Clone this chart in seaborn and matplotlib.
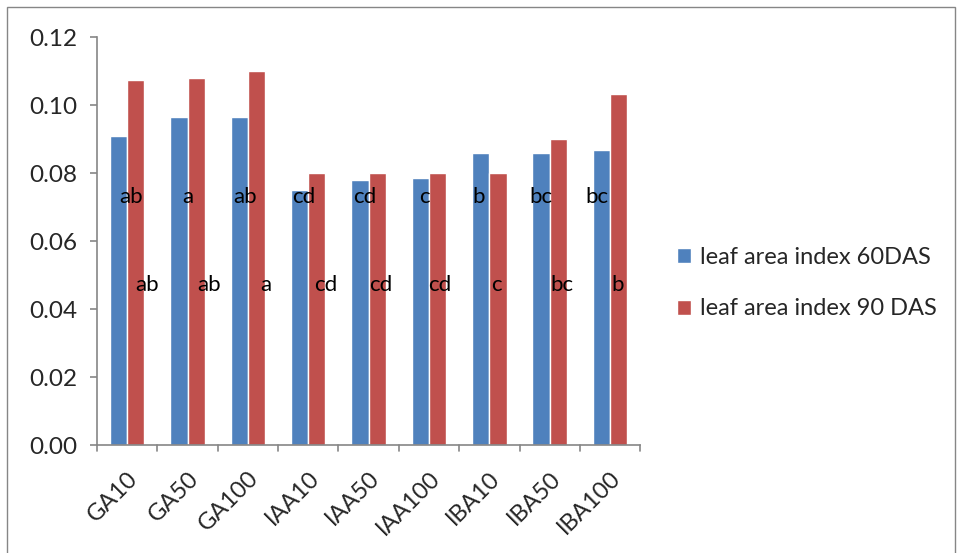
import matplotlib
matplotlib.use("Agg")
import matplotlib.pyplot as plt
import seaborn as sns
import pandas as pd
from matplotlib.patches import Rectangle

# Treatments and leaf area index readings
treatments = ["GA10", "GA50", "GA100", "IAA10", "IAA50", "IAA100", "IBA10", "IBA50", "IBA100"]
lai_60 = [0.0909, 0.0965, 0.0966, 0.0751, 0.0781, 0.0785, 0.0859, 0.0861, 0.0868]
lai_90 = [0.1074, 0.1079, 0.1100, 0.0800, 0.0800, 0.0800, 0.0800, 0.0900, 0.1033]
letters_60 = ["ab", "a", "ab", "cd", "cd", "c", "b", "bc", "bc"]
letters_90 = ["ab", "ab", "a", "cd", "cd", "cd", "c", "bc", "b"]
series_names = ["leaf area index 60DAS", "leaf area index 90 DAS"]
y_ticks = [0.00, 0.02, 0.04, 0.06, 0.08, 0.10, 0.12]

# horizontal nudges of the significance letters (category units)
shift_60 = [0.06, 0.0, -0.04, -0.07, -0.06, -0.08, -0.17, -0.15, -0.22]
shift_90 = [0.33, 0.36, 0.29, 0.29, 0.20, 0.18, 0.12, 0.20, 0.12]

df = pd.DataFrame({
    "treatment": treatments * 2,
    "value": lai_60 + lai_90,
    "series": [series_names[0]] * len(treatments) + [series_names[1]] * len(treatments),
})

sns.set_theme(style="white")
plt.rcParams["font.family"] = ["Lato", "DejaVu Sans"]

fig = plt.figure(figsize=(9.57, 5.53), dpi=100)
ax = fig.add_axes([0.1014, 0.1947, 0.5676, 0.7378])

palette = {series_names[0]: "#4F81BD", series_names[1]: "#C0504D"}
sns.barplot(data=df, x="treatment", y="value", hue="series", order=treatments,
            hue_order=series_names, palette=palette, width=0.57, saturation=1,
            ax=ax, errorbar=None)

ax.set_xlim(-0.5, len(treatments) - 0.5)
ax.set_ylim(0, 0.12)
ax.set_yticks(y_ticks)
ax.set_yticklabels([f"{t:.2f}" for t in y_ticks], fontsize=17.5)
ax.set_xticks(range(len(treatments)))
ax.set_xticklabels(treatments, rotation=45, ha="right", rotation_mode="anchor", fontsize=17)
ax.set_xlabel("")
ax.set_ylabel("")

axis_grey = "#868686"
for side in ["top", "right"]:
    ax.spines[side].set_visible(False)
for side in ["left", "bottom"]:
    ax.spines[side].set_color(axis_grey)
    ax.spines[side].set_linewidth(1.2)

ax.tick_params(axis="y", direction="out", length=5, width=1.2, color=axis_grey, pad=9, left=True)
ax.tick_params(axis="x", length=0, pad=16)
# category separator ticks below the horizontal axis
for b in [i - 0.5 for i in range(len(treatments) + 1)]:
    ax.plot([b, b], [0, -0.0018], color=axis_grey, lw=1.2, clip_on=False)

for i in range(len(treatments)):
    ax.text(i + shift_60[i], 0.073, letters_60[i], ha="center", va="center", fontsize=16, color="black")
    ax.text(i + shift_90[i], 0.0472, letters_90[i], ha="center", va="center", fontsize=16, color="black")

handles, labels = ax.get_legend_handles_labels()
ax.legend(handles, labels, loc="center left", bbox_to_anchor=(0.707, 0.488),
          bbox_transform=fig.transFigure, frameon=False, fontsize=17,
          handlelength=0.6, handleheight=0.6, handletextpad=0.4, labelspacing=1.3,
          borderpad=0, borderaxespad=0)

fig.patches.append(Rectangle((7 / 957, -0.01), 948 / 957, 1 - 7 / 553 + 0.01,
                             transform=fig.transFigure, fill=False,
                             edgecolor=axis_grey, linewidth=1.0))

fig.savefig("out.png", dpi=100)
